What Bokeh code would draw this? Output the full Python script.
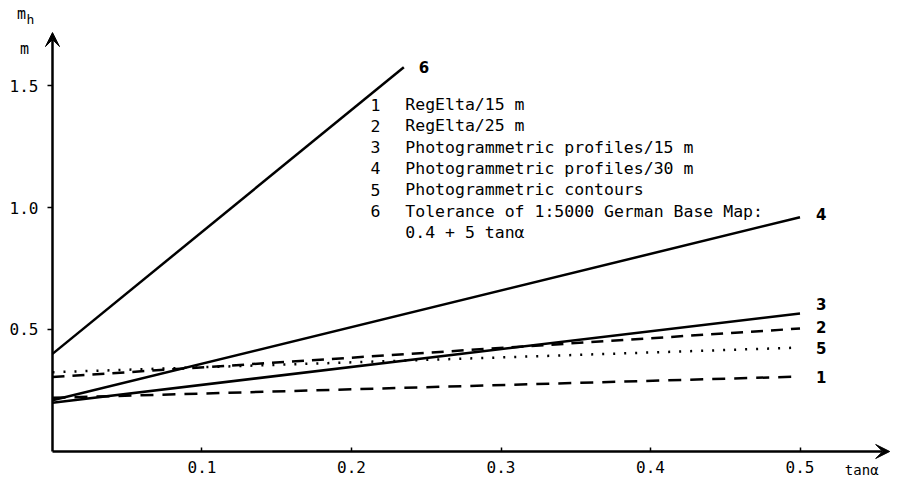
from bokeh.plotting import figure
from bokeh.models import Label, Arrow, VeeHead, FixedTicker
from bokeh.embed import file_html
from bokeh.resources import INLINE

# ---- data ----
tan_alpha = [0.0, 0.5]
series_ids = ["1", "2", "3", "4", "5"]
mh_start = [0.22, 0.305, 0.20, 0.21, 0.325]
mh_end = [0.307, 0.504, 0.566, 0.96, 0.426]

tol_x = [0.0, 0.235]      # curve 6: tolerance 0.4 + 5 tan(alpha)
tol_y = [0.40, 1.575]

legend_ids = ["1", "2", "3", "4", "5", "6", ""]
legend_texts = [
    "RegElta/15 m",
    "RegElta/25 m",
    "Photogrammetric profiles/15 m",
    "Photogrammetric profiles/30 m",
    "Photogrammetric contours",
    "Tolerance of 1:5000 German Base Map:",
    "0.4 + 5 tan\u03b1",
]

x_ticks = [0.1, 0.2, 0.3, 0.4, 0.5]
x_tick_labels = ["0.1", "0.2", "0.3", "0.4", "0.5"]
y_ticks = [0.5, 1.0, 1.5]
y_tick_labels = ["0.5", "1.0", "1.5"]

# ---- styles ----
dashes = ["13 9", "12 8", "solid", "solid", "2 9"]
end_label_dy = [0.0, 0.008, 0.04, 0.015, 0.0]
MONO = "DejaVu Sans Mono"
LW = 2.5

p = figure(width=891, height=478, x_range=(-0.03478, 0.5612), y_range=(-0.1107, 1.8484),
           output_backend="svg", toolbar_location=None,
           min_border_left=0, min_border_right=0, min_border_top=0,
           min_border_bottom=0)
p.grid.visible = False
p.outline_line_color = None
p.background_fill_color = "white"

# axes crossing at the origin
p.xaxis.fixed_location = 0
p.yaxis.fixed_location = 0
p.xaxis.ticker = FixedTicker(ticks=x_ticks)
p.xaxis.major_label_overrides = dict(zip(x_ticks, x_tick_labels))
p.yaxis.ticker = FixedTicker(ticks=y_ticks)
p.yaxis.major_label_overrides = dict(zip(y_ticks, y_tick_labels))
for ax in (p.xaxis, p.yaxis):
    ax.axis_line_color = None
    ax.minor_tick_line_color = None
    ax.major_tick_line_color = "black"
    ax.major_tick_line_width = 1.5
    ax.major_label_text_font = MONO
    ax.major_label_text_font_size = "16px"
    ax.major_label_text_color = "black"
p.xaxis.major_tick_in = 4
p.xaxis.major_tick_out = 0
p.xaxis.major_label_standoff = 10
p.yaxis.major_tick_in = 0
p.yaxis.major_tick_out = 5
p.yaxis.major_label_standoff = 9

# axis arrows
p.add_layout(Arrow(end=VeeHead(size=14, fill_color="black", line_color="black"),
                   x_start=0, y_start=0, x_end=0, y_end=1.717,
                   line_width=LW, line_color="black"))
p.add_layout(Arrow(end=VeeHead(size=14, fill_color="black", line_color="black"),
                   x_start=0, y_start=0, x_end=0.56, y_end=0,
                   line_width=LW, line_color="black"))

# series
for sid, y0, y1, d, dy in zip(series_ids, mh_start, mh_end, dashes, end_label_dy):
    p.line(tan_alpha, [y0, y1], line_color="black", line_width=LW, line_dash=d)
    p.add_layout(Label(x=tan_alpha[-1], y=y1 + dy, x_offset=16, text=sid,
                       text_font="DejaVu Sans", text_font_style="bold",
                       text_font_size="15px", text_baseline="middle",
                       text_color="black"))

p.line(tol_x, tol_y, line_color="black", line_width=LW)
p.add_layout(Label(x=tol_x[-1], y=tol_y[-1], x_offset=15, text="6",
                   text_font="DejaVu Sans", text_font_style="bold",
                   text_font_size="15px", text_baseline="middle", text_color="black"))

# legend block
leg_num_x, leg_txt_x, leg_y0, leg_dy = 0.216, 0.236, 1.422, 0.0873
for i, (n, t) in enumerate(zip(legend_ids, legend_texts)):
    yy = leg_y0 - i * leg_dy
    if n:
        p.add_layout(Label(x=leg_num_x, y=yy, text=n, text_font=MONO,
                           text_font_size="16.5px", text_align="center",
                           text_baseline="middle", text_color="black"))
    p.add_layout(Label(x=leg_txt_x, y=yy, text=t, text_font=MONO,
                       text_font_size="16.5px", text_baseline="middle",
                       text_color="black"))

# axis titles
p.add_layout(Label(x=-0.0207, y=1.795, text="m", text_font=MONO, text_font_size="15px",
                   text_align="center", text_baseline="middle", text_color="black"))
p.add_layout(Label(x=-0.0174, y=1.772, text="h", text_font=MONO, text_font_size="13px",
                   text_align="left", text_baseline="middle", text_color="black"))
p.add_layout(Label(x=-0.0187, y=1.648, text="m", text_font=MONO, text_font_size="15px",
                   text_align="center", text_baseline="middle", text_color="black"))
p.add_layout(Label(x=0.5300, y=-0.0779, text="tan\u03b1", text_font=MONO,
                   text_font_size="14px", text_baseline="middle", text_color="black"))

open("out.html", "w").write(file_html(p, INLINE))
